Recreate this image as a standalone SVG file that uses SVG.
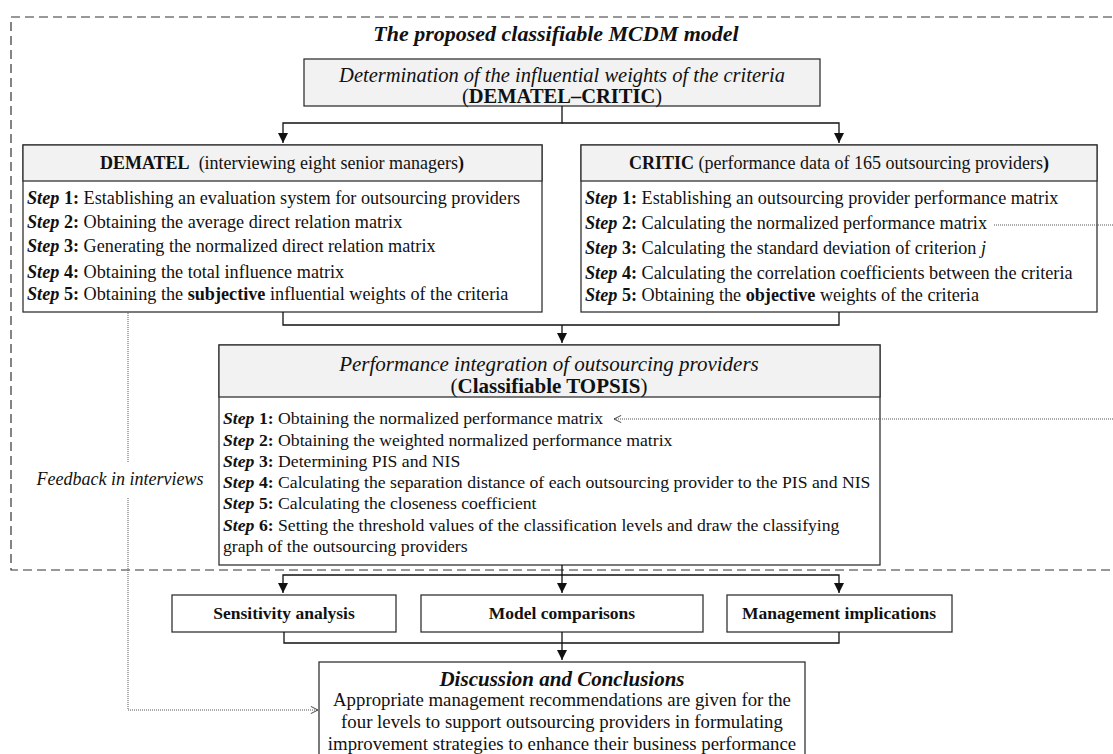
<svg xmlns="http://www.w3.org/2000/svg" width="1113" height="754" viewBox="0 0 1113 754">
<defs>
<style>
text{font-family:"Liberation Serif","Times New Roman",serif;fill:#111;}
.box{fill:#fff;stroke:#333;stroke-width:1.3;}
.hdr{fill:#f2f2f2;stroke:#333;stroke-width:1.3;}
.sd{font-size:18.2px;}
.sc{font-size:18.2px;}
.stp{font-size:17.7px;}
.sb{font-size:17.5px;}
.sdc{font-size:18.8px;}
.hh{font-size:18px;}
.b{font-weight:bold;}
.i{font-style:italic;}
.bi{font-weight:bold;font-style:italic;}
.c{text-anchor:middle;}
.ln{fill:none;stroke:#111;stroke-width:1.3;}
.dot{fill:none;stroke:#555;stroke-width:1;stroke-dasharray:1,1;}
</style>
<marker id="ah" viewBox="0 0 10 10" refX="10" refY="5" markerWidth="10" markerHeight="10" markerUnits="userSpaceOnUse" orient="auto">
<path d="M0,0 L10,5 L0,10 Z" fill="#111"/>
</marker>
<marker id="oh" viewBox="0 0 10 10" refX="9" refY="5" markerWidth="9" markerHeight="9" markerUnits="userSpaceOnUse" orient="auto">
<path d="M1,1 L9,5 L1,9" fill="none" stroke="#333" stroke-width="1"/>
</marker>
</defs>
<rect width="1113" height="754" fill="#fff"/>

<g id="frame">
<rect x="11" y="17" width="1120" height="553" fill="none" stroke="#333" stroke-width="1.2" stroke-dasharray="9,5"/>
<text x="556" y="41" class="c bi" font-size="22">The proposed classifiable MCDM model</text>
</g>

<g id="top-box">
<rect class="hdr" x="304" y="59" width="516" height="47"/>
<text x="562" y="82" class="c i" font-size="20.5">Determination of the influential weights of the criteria</text>
<text x="562" y="102.5" class="c" font-size="20.5"><tspan>(</tspan><tspan class="b">DEMATEL–CRITIC</tspan><tspan>)</tspan></text>
</g>

<g id="dematel">
<rect class="box" x="23" y="145" width="519" height="167"/>
<rect class="hdr" x="23" y="145" width="519" height="36"/>
<text x="282" y="169" class="c hh"><tspan class="b">DEMATEL</tspan>&#160; (interviewing eight senior managers<tspan class="b">)</tspan></text>
<text x="27" y="204" class="sd"><tspan class="bi">Step</tspan><tspan class="b"> 1:</tspan> Establishing an evaluation system for outsourcing providers</text>
<text x="27" y="228" class="sd"><tspan class="bi">Step</tspan><tspan class="b"> 2:</tspan> Obtaining the average direct relation matrix</text>
<text x="27" y="252" class="sd"><tspan class="bi">Step</tspan><tspan class="b"> 3:</tspan> Generating the normalized direct relation matrix</text>
<text x="27" y="278" class="sd"><tspan class="bi">Step</tspan><tspan class="b"> 4:</tspan> Obtaining the total influence matrix</text>
<text x="27" y="300" class="sd"><tspan class="bi">Step</tspan><tspan class="b"> 5:</tspan> Obtaining the <tspan class="b">subjective</tspan> influential weights of the criteria</text>
</g>

<g id="critic">
<rect class="box" x="581" y="145" width="516" height="167"/>
<rect class="hdr" x="581" y="145" width="516" height="36"/>
<text x="839" y="169" class="c hh"><tspan class="b">CRITIC</tspan> (performance data of 165 outsourcing providers<tspan class="b">)</tspan></text>
<text x="585" y="204" class="sc"><tspan class="bi">Step</tspan><tspan class="b"> 1:</tspan> Establishing an outsourcing provider performance matrix</text>
<text x="585" y="229" class="sc"><tspan class="bi">Step</tspan><tspan class="b"> 2:</tspan> Calculating the normalized performance matrix</text>
<text x="585" y="254" class="sc"><tspan class="bi">Step</tspan><tspan class="b"> 3:</tspan> Calculating the standard deviation of criterion <tspan class="i">j</tspan></text>
<text x="585" y="279" class="sc"><tspan class="bi">Step</tspan><tspan class="b"> 4:</tspan> Calculating the correlation coefficients between the criteria</text>
<text x="585" y="301" class="sc"><tspan class="bi">Step</tspan><tspan class="b"> 5:</tspan> Obtaining the <tspan class="b">objective</tspan> weights of the criteria</text>
</g>

<g id="topsis">
<rect class="box" x="219" y="345" width="661" height="220"/>
<rect class="hdr" x="219" y="345" width="661" height="52"/>
<text x="549" y="370.5" class="c i" font-size="21">Performance integration of outsourcing providers</text>
<text x="549" y="393" class="c" font-size="21"><tspan>(</tspan><tspan class="b">Classifiable TOPSIS</tspan><tspan>)</tspan></text>
<text x="223" y="424" class="stp"><tspan class="bi">Step</tspan><tspan class="b"> 1:</tspan> Obtaining the normalized performance matrix</text>
<text x="223" y="446" class="stp"><tspan class="bi">Step</tspan><tspan class="b"> 2:</tspan> Obtaining the weighted normalized performance matrix</text>
<text x="223" y="467" class="stp"><tspan class="bi">Step</tspan><tspan class="b"> 3:</tspan> Determining PIS and NIS</text>
<text x="223" y="488" class="stp"><tspan class="bi">Step</tspan><tspan class="b"> 4:</tspan> Calculating the separation distance of each outsourcing provider to the PIS and NIS</text>
<text x="223" y="509" class="stp"><tspan class="bi">Step</tspan><tspan class="b"> 5:</tspan> Calculating the closeness coefficient</text>
<text x="223" y="531" class="stp"><tspan class="bi">Step</tspan><tspan class="b"> 6:</tspan> Setting the threshold values of the classification levels and draw the classifying</text>
<text x="223" y="552" class="stp">graph of the outsourcing providers</text>
</g>

<g id="sensitivity">
<rect class="box" x="172" y="595" width="224" height="37"/>
<text x="284" y="619" class="c sb b">Sensitivity analysis</text>
</g>

<g id="comparisons">
<rect class="box" x="421" y="595" width="282" height="37"/>
<text x="562" y="619" class="c sb b">Model comparisons</text>
</g>

<g id="implications">
<rect class="box" x="727" y="595" width="225" height="37"/>
<text x="839" y="619" class="c sb b">Management implications</text>
</g>

<g id="conclusions">
<rect class="box" x="319" y="662" width="486" height="100"/>
<text x="562" y="686" class="c bi" font-size="21">Discussion and Conclusions</text>
<text x="562" y="706" class="c sdc">Appropriate management recommendations are given for the</text>
<text x="562" y="728" class="c sdc">four levels to support outsourcing providers in formulating</text>
<text x="562" y="750" class="c sdc">improvement strategies to enhance their business performance</text>
</g>

<g id="connectors">
<path class="ln" d="M562,106 V123 H283 V143" marker-end="url(#ah)"/>
<path class="ln" d="M562,123 H839 V143" marker-end="url(#ah)"/>
<path class="ln" d="M283,312 V325 H839 V312"/>
<path class="ln" d="M562,325 V343" marker-end="url(#ah)"/>
<path class="ln" d="M562,565 V575 H283 V593" marker-end="url(#ah)"/>
<path class="ln" d="M562,575 V593" marker-end="url(#ah)"/>
<path class="ln" d="M562,575 H839 V593" marker-end="url(#ah)"/>
<path class="ln" d="M284,632 V643 H839 V632"/>
<path class="ln" d="M562,632 V660" marker-end="url(#ah)"/>
<path class="dot" d="M994,225 H1125"/>
<path class="dot" d="M1125,419 H614" marker-end="url(#oh)"/>
<path class="dot" d="M128,313 V462"/>
<path class="dot" d="M128,498 V710 H318" marker-end="url(#oh)"/>
<text x="120" y="485" class="c i" font-size="18">Feedback in interviews</text>
</g>
</svg>
